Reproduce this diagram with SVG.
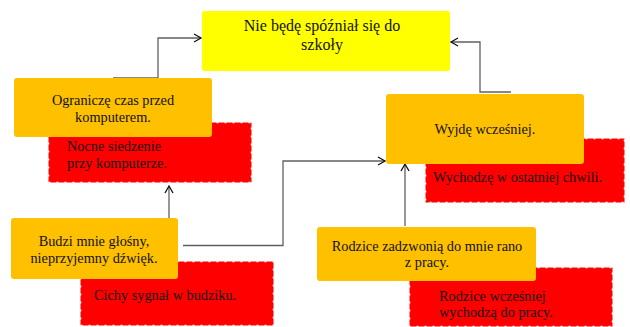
<svg xmlns="http://www.w3.org/2000/svg" width="630" height="327" viewBox="0 0 630 327">
<defs>
<marker id="arr" markerWidth="10" markerHeight="10" refX="8" refY="5" orient="auto" markerUnits="userSpaceOnUse">
<path d="M1,1 L8,5 L1,9" fill="none" stroke="#111" stroke-width="1.3"/>
</marker>
<style>
.t text{font-size:14.3px;fill:#111}
.t .big{font-size:16px}
.c{text-anchor:middle}
.goal{fill:#ffff00}
.act{fill:#ffc000}
.cause{fill:#ff0000;stroke:#fff;stroke-width:1.5;stroke-dasharray:2 6}
.con{fill:none;stroke:#606060;stroke-width:1.3;marker-end:url(#arr)}
</style>
</defs>
<rect width="630" height="327" fill="#fff"/>
<g id="connectors">
<path class="con" d="M113,78 H158 V38 H201"/>
<path class="con" d="M511,92 H480 V42 H451"/>
<path class="con" d="M169,218 V186"/>
<path class="con" d="M183,245.5 H283 V161 H385"/>
<path class="con" d="M405,226 V164"/>
</g>
<g class="t" font-family="'Liberation Serif', 'Times New Roman', serif">
<g id="goal">
<rect class="goal" x="202" y="11" width="248" height="60" rx="2"/>
<text class="c big" x="322" y="30.5">Nie będę spóźniał się do</text>
<text class="c big" x="322" y="49.5">szkoły</text>
</g>
<g id="cause1">
<rect class="cause" x="48.5" y="122.5" width="203" height="60"/>
<text x="67" y="151">Nocne siedzenie</text>
<text x="67" y="168">przy komputerze.</text>
</g>
<g id="action1">
<rect class="act" x="14" y="78" width="198" height="59" rx="3"/>
<text class="c" x="113" y="105">Ograniczę czas przed</text>
<text class="c" x="113" y="122">komputerem.</text>
</g>
<g id="cause2">
<rect class="cause" x="425.5" y="138.5" width="199" height="64"/>
<text x="433" y="182">Wychodzę w ostatniej chwili.</text>
</g>
<g id="action2">
<rect class="act" x="386" y="94" width="198" height="70" rx="3"/>
<text class="c" x="485" y="134">Wyjdę wcześniej.</text>
</g>
<g id="cause3">
<rect class="cause" x="80.5" y="261.5" width="193" height="64"/>
<text x="94" y="300">Cichy sygnał w budziku.</text>
</g>
<g id="action3">
<rect class="act" x="11" y="218" width="167" height="61" rx="3"/>
<text class="c" x="94" y="246">Budzi mnie głośny,</text>
<text class="c" x="94" y="263">nieprzyjemny dźwięk.</text>
</g>
<g id="cause4">
<rect class="cause" x="409.5" y="267.5" width="203" height="59"/>
<text x="439" y="301">Rodzice wcześniej</text>
<text x="439" y="317">wychodzą do pracy.</text>
</g>
<g id="action4">
<rect class="act" x="317" y="227" width="219" height="54" rx="3"/>
<text class="c" x="427" y="251">Rodzice zadzwonią do mnie rano</text>
<text class="c" x="427" y="267">z pracy.</text>
</g>
</g>
</svg>
